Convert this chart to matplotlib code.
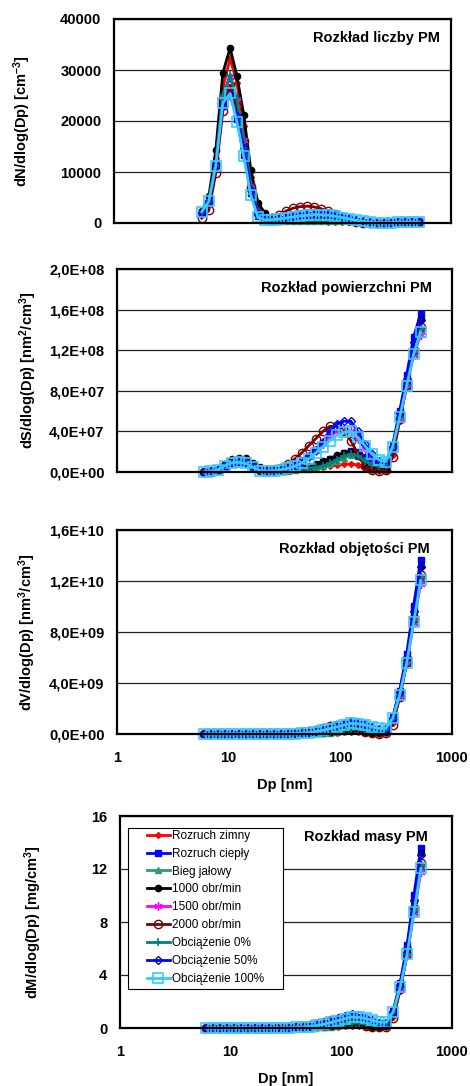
import math
import matplotlib
matplotlib.use('Agg')
import matplotlib.pyplot as plt
from matplotlib.patches import Rectangle
from matplotlib.ticker import FixedLocator, FuncFormatter, NullLocator

plt.rcParams['font.family'] = ['Liberation Sans', 'DejaVu Sans']
plt.rcParams['mathtext.fontset'] = 'custom'
plt.rcParams['mathtext.rm'] = 'Liberation Sans'
plt.rcParams['mathtext.bf'] = 'Liberation Sans:bold'
plt.rcParams['mathtext.it'] = 'Liberation Sans:italic'

# ---------------- data ----------------
Dp = [6.04, 6.98, 8.06, 9.31, 10.8, 12.4, 14.3, 16.5, 19.1, 22.1, 25.5, 29.4,
      34.0, 39.2, 45.3, 52.3, 60.4, 69.8, 80.6, 93.1, 107.5, 124.1, 143.3, 165.5,
      191.1, 220.7, 254.8, 294.3, 339.8, 392.4, 453.2, 523.3]

series_labels = ['Rozruch zimny', 'Rozruch ciepły', 'Bieg jałowy', '1000 obr/min',
                 '1500 obr/min', '2000 obr/min', 'Obciążenie 0%', 'Obciążenie 50%',
                 'Obciążenie 100%']

# Number distribution dN/dlog(Dp) [1/cm3]
N_rozruch_zimny = [1900, 4600, 12800, 26500, 32300, 27500, 19000, 9000, 3230, 1300, 685, 550, 495, 500, 465, 420, 366, 327, 284, 242, 207, 165, 108, 41, 13, 5, 5, 62, 138, 176, 186, 165]
N_rozruch_cieply = [2080, 4040, 11400, 22900, 25500, 20300, 13400, 5900, 1300, 590, 440, 480, 520, 540, 540, 580, 610, 620, 612, 588, 523, 434, 310, 174, 96, 62, 44, 99, 165, 198, 206, 181]
N_bieg_jalowy = [2000, 4180, 11500, 23500, 26500, 21950, 14500, 6200, 1480, 590, 390, 370, 385, 395, 403, 384, 366, 360, 367, 386, 386, 341, 240, 128, 61, 36, 29, 88, 152, 180, 183, 164]
N_1000 = [2300, 5200, 14300, 29400, 34300, 28900, 21200, 10400, 4000, 1900, 1100, 900, 800, 790, 760, 745, 725, 690, 650, 600, 510, 403, 248, 81, 31, 16, 15, 90, 154, 184, 197, 176]
N_1500 = [2000, 4300, 11800, 24500, 28700, 24000, 16300, 7500, 2200, 900, 700, 800, 990, 1300, 1550, 1750, 1830, 1830, 1715, 1470, 1130, 830, 510, 267, 130, 65, 44, 81, 143, 174, 178, 157]
N_2000 = [960, 2480, 9800, 22000, 27000, 22980, 16040, 7000, 2000, 913, 1000, 1550, 2350, 2900, 3200, 3300, 3150, 2800, 2300, 1700, 1100, 640, 279, 70, 17, 7, 7, 55, 143, 178, 186, 166]
N_obc_0 = [2090, 4380, 12000, 25000, 28960, 24430, 16500, 7250, 1920, 717, 440, 405, 496, 456, 434, 407, 393, 392, 416, 441, 427, 362, 248, 128, 61, 36, 32, 88, 149, 178, 181, 163]
N_obc_50 = [2000, 4100, 11300, 23000, 25000, 21000, 14800, 6500, 1700, 800, 700, 850, 1100, 1400, 1700, 1850, 1920, 1950, 1960, 1730, 1380, 1030, 620, 325, 157, 72, 44, 92, 160, 190, 198, 174]
N_obc_100 = [2180, 4250, 11270, 23500, 25400, 19900, 13080, 5500, 1130, 587, 636, 810, 990, 1200, 1400, 1510, 1660, 1630, 1520, 1320, 1075, 827, 527, 302, 157, 78, 49, 92, 149, 176, 180, 160]

# Surface distribution dS/dlog(Dp), values in 1e6 nm2/cm3
S_UNIT = 1e6
S_rozruch_zimny = [0.22, 0.7, 2.6, 7.2, 11.8, 13.3, 12.2, 7.7, 3.7, 2.0, 1.4, 1.5, 1.8, 2.4, 3.0, 3.6, 4.2, 5.0, 5.8, 6.6, 7.5, 8.0, 7.0, 3.5, 1.5, 0.8, 1.0, 17, 50, 85, 120, 142]
S_rozruch_cieply = [0.24, 0.62, 2.3, 6.2, 9.3, 9.8, 8.6, 5.0, 1.5, 0.9, 0.9, 1.3, 1.9, 2.6, 3.5, 5.0, 7.0, 9.5, 12.5, 16, 19, 21, 20, 15, 11, 9.5, 9.0, 27, 60, 95.6, 133, 156]
S_bieg_jalowy = [0.23, 0.64, 2.35, 6.4, 9.7, 10.6, 9.3, 5.3, 1.7, 0.9, 0.8, 1.0, 1.4, 1.9, 2.6, 3.3, 4.2, 5.5, 7.5, 10.5, 14, 16.5, 15.5, 11, 7, 5.5, 6.0, 24, 55, 87, 118, 141]
S_1000 = [0.26, 0.8, 2.9, 8.0, 12.6, 14.0, 13.6, 8.9, 4.6, 2.9, 2.2, 2.4, 2.9, 3.8, 4.9, 6.4, 8.3, 10.6, 13.3, 16.3, 18.5, 19.5, 16.0, 7.0, 3.5, 2.5, 3.0, 24.5, 56, 89, 127, 151]
S_1500 = [0.23, 0.66, 2.4, 6.7, 10.5, 11.6, 10.5, 6.4, 2.5, 1.4, 1.4, 2.2, 3.6, 6.3, 10, 15, 21, 28, 35, 40, 41, 40, 33, 23, 15, 10, 9, 22, 52, 84, 115, 135]
S_2000 = [0.11, 0.38, 2.0, 6.0, 9.9, 11.1, 10.3, 6.0, 2.3, 1.4, 2.0, 4.0, 8.0, 13, 19, 26, 33, 40, 45, 45, 40, 31, 18, 6, 2, 1, 1.5, 15, 52, 86, 120, 143]
S_obc_0 = [0.24, 0.67, 2.45, 6.8, 10.6, 11.8, 10.6, 6.2, 2.2, 1.1, 0.9, 1.1, 1.8, 2.2, 2.8, 3.5, 4.5, 6.0, 8.5, 12, 15.5, 17.5, 16, 11, 7, 5.5, 6.5, 24, 54, 86, 117, 140]
S_obc_50 = [0.23, 0.63, 2.3, 6.3, 9.2, 10.1, 9.5, 5.6, 1.9, 1.2, 1.4, 2.3, 4.0, 6.8, 11, 16, 22, 30, 40, 47, 50, 50, 40, 28, 18, 11, 9, 25, 58, 92, 128, 150]
S_obc_100 = [0.25, 0.65, 2.3, 6.4, 9.3, 9.6, 8.4, 4.7, 1.3, 0.9, 1.3, 2.2, 3.6, 5.8, 9.0, 13, 19, 25, 31, 36, 39, 40, 34, 26, 18, 12, 10, 25, 54, 85, 116, 138]

# Volume distribution dV/dlog(Dp), values in 1e9 nm3/cm3
V_UNIT = 1e9
V_rozruch_zimny = [0.0002, 0.0008, 0.0035, 0.011, 0.021, 0.028, 0.029, 0.021, 0.012, 0.007, 0.006, 0.007, 0.010, 0.016, 0.023, 0.031, 0.042, 0.058, 0.078, 0.102, 0.134, 0.165, 0.167, 0.097, 0.048, 0.029, 0.042, 0.83, 2.83, 5.56, 9.06, 12.39]
V_rozruch_cieply = [0.0002, 0.0007, 0.0031, 0.0096, 0.017, 0.020, 0.020, 0.014, 0.005, 0.003, 0.004, 0.006, 0.011, 0.017, 0.026, 0.044, 0.070, 0.110, 0.168, 0.248, 0.340, 0.434, 0.478, 0.414, 0.350, 0.349, 0.382, 1.32, 3.40, 6.25, 10.05, 13.61]
V_bieg_jalowy = [0.0002, 0.0007, 0.0031, 0.0099, 0.017, 0.022, 0.022, 0.015, 0.005, 0.003, 0.003, 0.005, 0.008, 0.012, 0.020, 0.029, 0.042, 0.064, 0.101, 0.163, 0.251, 0.341, 0.370, 0.303, 0.223, 0.202, 0.255, 1.18, 3.11, 5.69, 8.91, 12.30]
V_1000 = [0.0003, 0.0009, 0.004, 0.012, 0.023, 0.029, 0.032, 0.024, 0.015, 0.011, 0.009, 0.012, 0.016, 0.025, 0.037, 0.056, 0.084, 0.123, 0.179, 0.253, 0.332, 0.403, 0.382, 0.193, 0.111, 0.092, 0.127, 1.20, 3.17, 5.82, 9.59, 13.17]
V_1500 = [0.0002, 0.0008, 0.0032, 0.010, 0.019, 0.024, 0.025, 0.018, 0.008, 0.005, 0.006, 0.011, 0.020, 0.041, 0.076, 0.131, 0.211, 0.326, 0.470, 0.621, 0.735, 0.827, 0.788, 0.634, 0.478, 0.368, 0.382, 1.08, 2.94, 5.49, 8.69, 11.77]
V_2000 = [0.0001, 0.0004, 0.0027, 0.0093, 0.018, 0.023, 0.025, 0.017, 0.007, 0.005, 0.009, 0.020, 0.045, 0.085, 0.143, 0.227, 0.332, 0.465, 0.604, 0.698, 0.717, 0.641, 0.430, 0.165, 0.064, 0.037, 0.064, 0.74, 2.94, 5.62, 9.06, 12.47]
V_obc_0 = [0.0002, 0.0008, 0.0033, 0.011, 0.019, 0.024, 0.025, 0.017, 0.007, 0.004, 0.004, 0.005, 0.010, 0.014, 0.021, 0.031, 0.045, 0.070, 0.114, 0.186, 0.278, 0.362, 0.382, 0.303, 0.223, 0.202, 0.276, 1.18, 3.06, 5.62, 8.84, 12.21]
V_obc_50 = [0.0002, 0.0007, 0.0031, 0.0098, 0.017, 0.021, 0.023, 0.015, 0.006, 0.004, 0.006, 0.011, 0.023, 0.044, 0.083, 0.140, 0.222, 0.349, 0.537, 0.729, 0.896, 1.034, 0.955, 0.772, 0.573, 0.405, 0.382, 1.23, 3.28, 6.02, 9.67, 13.08]
V_obc_100 = [0.0003, 0.0008, 0.0031, 0.0099, 0.017, 0.020, 0.020, 0.013, 0.004, 0.003, 0.006, 0.011, 0.020, 0.038, 0.068, 0.113, 0.191, 0.291, 0.416, 0.559, 0.699, 0.827, 0.812, 0.717, 0.573, 0.441, 0.425, 1.23, 3.06, 5.56, 8.76, 12.04]

# Mass distribution dM/dlog(Dp) [mg/cm3]
M_rozruch_zimny = [0.0, 0.0, 0.0, 0.01, 0.02, 0.03, 0.03, 0.02, 0.01, 0.01, 0.01, 0.01, 0.01, 0.02, 0.02, 0.03, 0.04, 0.06, 0.08, 0.10, 0.13, 0.17, 0.17, 0.10, 0.05, 0.03, 0.04, 0.83, 2.83, 5.56, 9.06, 12.39]
M_rozruch_cieply = [0.0, 0.0, 0.0, 0.01, 0.02, 0.02, 0.02, 0.01, 0.01, 0.0, 0.0, 0.01, 0.01, 0.02, 0.03, 0.04, 0.07, 0.11, 0.17, 0.25, 0.34, 0.43, 0.48, 0.41, 0.35, 0.35, 0.38, 1.32, 3.40, 6.25, 10.05, 13.61]
M_bieg_jalowy = [0.0, 0.0, 0.0, 0.01, 0.02, 0.02, 0.02, 0.02, 0.01, 0.0, 0.0, 0.01, 0.01, 0.01, 0.02, 0.03, 0.04, 0.06, 0.10, 0.16, 0.25, 0.34, 0.37, 0.30, 0.22, 0.20, 0.26, 1.18, 3.11, 5.69, 8.91, 12.30]
M_1000 = [0.0, 0.0, 0.0, 0.01, 0.02, 0.03, 0.03, 0.02, 0.02, 0.01, 0.01, 0.01, 0.02, 0.03, 0.04, 0.06, 0.08, 0.12, 0.18, 0.25, 0.33, 0.40, 0.38, 0.19, 0.11, 0.09, 0.13, 1.20, 3.17, 5.82, 9.59, 13.17]
M_1500 = [0.0, 0.0, 0.0, 0.01, 0.02, 0.02, 0.03, 0.02, 0.01, 0.01, 0.01, 0.01, 0.02, 0.04, 0.08, 0.13, 0.21, 0.33, 0.47, 0.62, 0.74, 0.83, 0.79, 0.63, 0.48, 0.37, 0.38, 1.08, 2.94, 5.49, 8.69, 11.77]
M_2000 = [0.0, 0.0, 0.0, 0.01, 0.02, 0.02, 0.03, 0.02, 0.01, 0.01, 0.01, 0.02, 0.05, 0.09, 0.14, 0.23, 0.33, 0.47, 0.60, 0.70, 0.72, 0.64, 0.43, 0.17, 0.06, 0.04, 0.06, 0.74, 2.94, 5.62, 9.06, 12.47]
M_obc_0 = [0.0, 0.0, 0.0, 0.01, 0.02, 0.02, 0.03, 0.02, 0.01, 0.0, 0.0, 0.01, 0.01, 0.01, 0.02, 0.03, 0.05, 0.07, 0.11, 0.19, 0.28, 0.36, 0.38, 0.30, 0.22, 0.20, 0.28, 1.18, 3.06, 5.62, 8.84, 12.21]
M_obc_50 = [0.0, 0.0, 0.0, 0.01, 0.02, 0.02, 0.02, 0.02, 0.01, 0.0, 0.01, 0.01, 0.02, 0.04, 0.08, 0.14, 0.22, 0.35, 0.54, 0.73, 0.90, 1.03, 0.96, 0.77, 0.57, 0.41, 0.38, 1.23, 3.28, 6.02, 9.67, 13.08]
M_obc_100 = [0.0, 0.0, 0.0, 0.01, 0.02, 0.02, 0.02, 0.01, 0.0, 0.0, 0.01, 0.01, 0.02, 0.04, 0.07, 0.11, 0.19, 0.29, 0.42, 0.56, 0.70, 0.83, 0.81, 0.72, 0.57, 0.44, 0.43, 1.23, 3.06, 5.56, 8.76, 12.04]

N_series = [N_rozruch_zimny, N_rozruch_cieply, N_bieg_jalowy, N_1000, N_1500, N_2000, N_obc_0, N_obc_50, N_obc_100]
S_series = [S_rozruch_zimny, S_rozruch_cieply, S_bieg_jalowy, S_1000, S_1500, S_2000, S_obc_0, S_obc_50, S_obc_100]
V_series = [V_rozruch_zimny, V_rozruch_cieply, V_bieg_jalowy, V_1000, V_1500, V_2000, V_obc_0, V_obc_50, V_obc_100]
M_series = [M_rozruch_zimny, M_rozruch_cieply, M_bieg_jalowy, M_1000, M_1500, M_2000, M_obc_0, M_obc_50, M_obc_100]

# ---------------- styles ----------------
styles = [
    dict(color='#FF0000', marker='D', ms=3.0, mfc='#FF0000', mec='#FF0000'),
    dict(color='#0000FF', marker='s', ms=4.5, mfc='#0000FF', mec='#0000FF'),
    dict(color='#339966', marker='^', ms=4.5, mfc='#339966', mec='#339966'),
    dict(color='#000000', marker='o', ms=4.5, mfc='#000000', mec='#000000'),
    dict(color='#FF00FF', marker=(6, 2, 0), ms=6.0, mfc='#FF00FF', mec='#FF00FF', mew=1.0),
    dict(color='#800000', marker='o', ms=6.0, mfc='none', mec='#800000', mew=1.0),
    dict(color='#008080', marker='+', ms=5.5, mfc='#008080', mec='#008080', mew=1.2),
    dict(color='#0000FF', marker='D', ms=4.0, mfc='none', mec='#0000FF', mew=1.0),
    dict(color='#33CCFF', marker='s', ms=6.5, mfc='none', mec='#33CCFF', mew=1.2),
]

W, H = 470, 1086
fig = plt.figure(figsize=(W / 100, H / 100), dpi=100)


def make_axes(left, right, top, bottom):
    return fig.add_axes([left / W, 1 - bottom / H, (right - left) / W, (bottom - top) / H])


def sci_fmt(v, pos):
    if v == 0:
        return '0,0E+00'
    e = int(math.floor(math.log10(abs(v)) + 1e-9))
    m = v / 10 ** e
    return f"{m:.1f}E+{e:02d}".replace('.', ',')


FS = 10.5

panels = [
    dict(box=(114, 451, 19, 223), data=N_series, unit=1, ylim=(0, 40000), yticks=[0, 10000, 20000, 30000, 40000],
         fmt=lambda v, p: f"{int(v)}", ylabel=r'dN/dlog(Dp) [cm$^{\mathbf{-3}}$]', lab_x=-0.240,
         title='Rozkład liczby PM', tpos=(0.967, 0.905), xlab=False),
    dict(box=(117, 452, 269, 472), data=S_series, unit=S_UNIT, ylim=(0, 2e8), yticks=[0, 4e7, 8e7, 1.2e8, 1.6e8, 2e8],
         fmt=sci_fmt, ylabel=r'dS/dlog(Dp) [nm$^{\mathbf{2}}$/cm$^{\mathbf{3}}$]', lab_x=-0.232,
         title='Rozkład powierzchni PM', tpos=(0.94, 0.908), xlab=False),
    dict(box=(117, 452, 530, 734), data=V_series, unit=V_UNIT, ylim=(0, 1.6e10), yticks=[0, 4e9, 8e9, 1.2e10, 1.6e10],
         fmt=sci_fmt, ylabel=r'dV/dlog(Dp) [nm$^{\mathbf{3}}$/cm$^{\mathbf{3}}$]', lab_x=-0.235,
         title='Rozkład objętości PM', tpos=(0.934, 0.907), xlab=True),
    dict(box=(120, 452, 816, 1028), data=M_series, unit=1, ylim=(0, 16), yticks=[0, 4, 8, 12, 16],
         fmt=lambda v, p: f"{int(v)}", ylabel=r'dM/dlog(Dp) [mg/cm$^{\mathbf{3}}$]', lab_x=-0.228,
         title='Rozkład masy PM', tpos=(0.926, 0.902), xlab=True),
]

axes = []
for pnl in panels:
    ax = make_axes(*pnl['box'])
    axes.append(ax)
    ax.set_xscale('log')
    ax.set_xlim(1, 1000)
    ax.set_ylim(*pnl['ylim'])
    ax.yaxis.set_major_locator(FixedLocator(pnl['yticks']))
    ax.yaxis.set_major_formatter(FuncFormatter(pnl['fmt']))
    ax.yaxis.set_minor_locator(NullLocator())
    ax.xaxis.set_minor_locator(NullLocator())
    ax.xaxis.set_major_locator(FixedLocator([1, 10, 100, 1000]))
    if pnl['xlab']:
        ax.xaxis.set_major_formatter(FuncFormatter(lambda v, p: f"{int(round(v))}"))
        ax.set_xlabel('Dp [nm]', fontsize=FS, fontweight='bold', labelpad=9.5)
    else:
        ax.set_xticklabels([])
    ax.tick_params(axis='both', length=0, labelsize=FS)
    ax.tick_params(axis='x', pad=12)
    ax.tick_params(axis='y', pad=9)
    for lab in ax.get_xticklabels() + ax.get_yticklabels():
        lab.set_fontweight('bold')
    ax.grid(axis='y', color='#202020', linewidth=0.9)
    ax.grid(axis='x', visible=False)
    ax.set_axisbelow(True)
    for sp in ax.spines.values():
        sp.set_linewidth(1.6)
        sp.set_color('black')
    ax.set_ylabel(pnl['ylabel'], fontsize=FS, fontweight='bold')
    ax.yaxis.set_label_coords(pnl['lab_x'], 0.5)
    ax.text(pnl['tpos'][0], pnl['tpos'][1], pnl['title'], transform=ax.transAxes,
            ha='right', va='center', fontsize=FS, fontweight='bold')
    for lab, vals, st in zip(series_labels, pnl['data'], styles):
        ax.plot(Dp, [v * pnl['unit'] for v in vals], label=lab, lw=2.0, clip_on=False, **st)

# legend: Excel-style box with wide side margins
ax4 = axes[3]
frame = Rectangle((0.023, 0.184), 0.469, 0.758, transform=ax4.transAxes, facecolor='white',
                  edgecolor='black', linewidth=0.8, zorder=4.9)
ax4.add_patch(frame)
leg = ax4.legend(loc='upper left', bbox_to_anchor=(0.080, 0.935), borderaxespad=0,
                 fontsize=8.5, frameon=False, handlelength=1.95, handletextpad=0.17,
                 labelspacing=0.5, borderpad=0.0)

fig.savefig('out.png', dpi=100)
